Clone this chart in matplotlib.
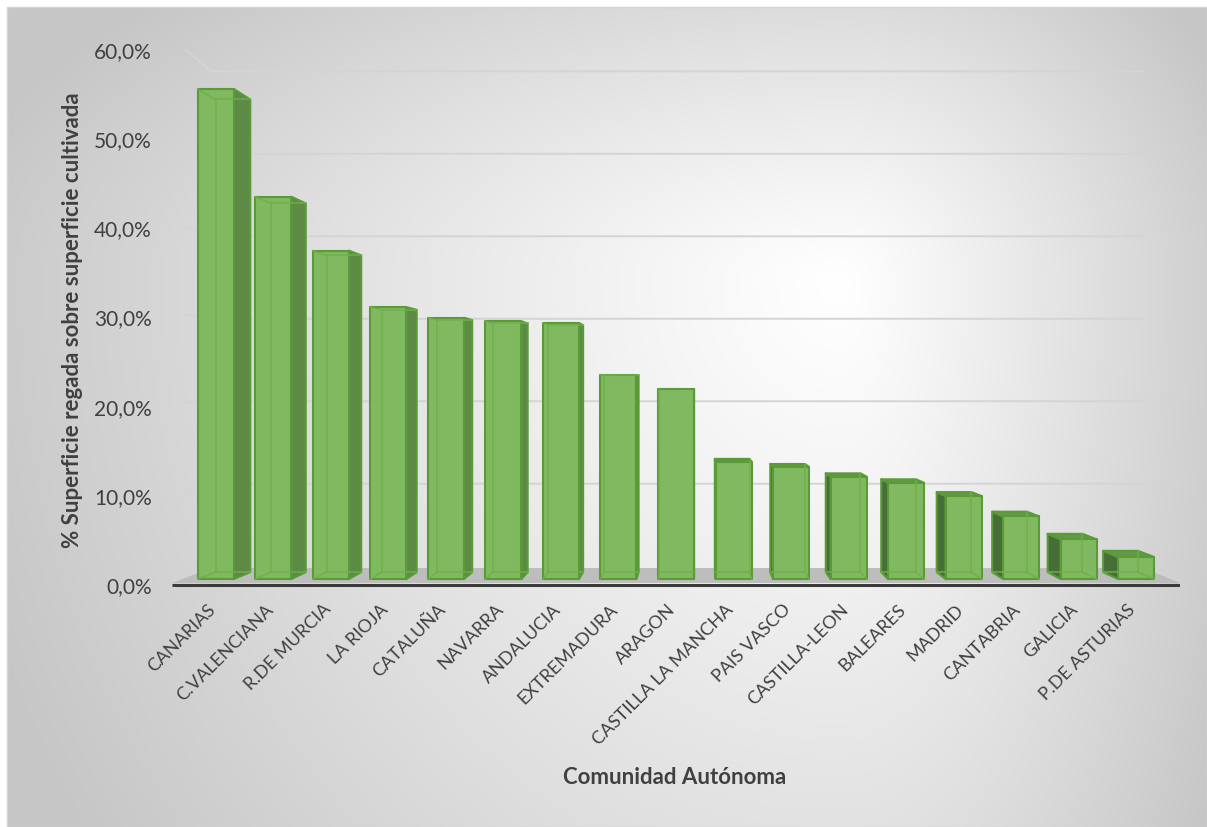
import numpy as np
import matplotlib
matplotlib.use('Agg')
import matplotlib.pyplot as plt
from matplotlib.patches import Polygon, Rectangle
from matplotlib.transforms import offset_copy

comunidades = ['CANARIAS', 'C.VALENCIANA', 'R.DE MURCIA', 'LA RIOJA', 'CATALUÑA',
               'NAVARRA', 'ANDALUCIA', 'EXTREMADURA', 'ARAGON', 'CASTILLA LA MANCHA',
               'PAIS VASCO', 'CASTILLA-LEON', 'BALEARES', 'MADRID', 'CANTABRIA',
               'GALICIA', 'P.DE ASTURIAS']
pct_regada = [55.5, 43.3, 37.2, 30.8, 29.6, 29.2, 29.0, 23.1, 21.5, 13.3,
              12.7, 11.6, 10.9, 9.4, 7.1, 4.5, 2.5]
yticks = [0, 10, 20, 30, 40, 50, 60]
ytick_labels = ['0,0%', '10,0%', '20,0%', '30,0%', '40,0%', '50,0%', '60,0%']

plt.rcParams['font.family'] = ['Lato', 'DejaVu Sans']
TXT = '#404040'

W, H = 1207, 828
fig = plt.figure(figsize=(W / 100, H / 100), dpi=100)

# chart area background: off-centre radial gradient
bg = fig.add_axes([0, 0, 1, 1], zorder=-10)
yy, xx = np.mgrid[0:H, 0:W].astype(float)
dx = xx - 840
dy = yy - 280
rx = np.where(dx < 0, 900, 430)
ry = np.where(dy < 0, 420, 1000)
t = np.clip(np.sqrt((dx / rx) ** 2 + (dy / ry) ** 2), 0, 1)
grey = 1 - (1 - 0.78) * t ** 1.1
grey[(xx < 7) | (yy < 8)] = 1.0
bg.imshow(np.dstack([grey] * 3), extent=(0, W, H, 0), interpolation='bilinear')
bg.add_patch(Rectangle((7, 8), W - 7, H - 8, fill=False, ec='#d4d4d4', lw=1))
bg.set_xlim(0, W)
bg.set_ylim(H, 0)
bg.set_axis_off()

# plot area in data units (x = category index, y = percent)
ax = fig.add_axes([0.1425, 0.28744, 0.83513, 0.66425])
ax.set_xlim(-0.673, 16.68)
ax.set_ylim(-0.897, 60.78)
ax.set_axis_off()
ax.patch.set_alpha(0)

# perspective: vanishing point and depth scales
VX, VY = 8.35, 22.1
S_WALL = 0.925
S_FRONT, S_BACK = 0.99, 0.955
HALF_W = 0.313
XL, XR = -0.673, 16.68
FLOOR_Y = -0.22


def proj(x, y, s):
    return VX + (x - VX) * s, VY + (y - VY) * s


# gridlines on back wall and left side wall
for v in yticks[1:]:
    p0 = proj(XL + 0.14, v, 0.99)
    p1 = proj(XL, v, S_WALL)
    p2 = proj(XR, v, S_WALL)
    ax.plot([p0[0], p1[0], p2[0]], [p0[1], p1[1], p2[1]], color='#d4d4d4', lw=1.4,
            zorder=1, solid_capstyle='butt')

# floor
floor = [proj(XL, FLOOR_Y, 1.0), proj(XR, FLOOR_Y, 1.0),
         proj(XR, FLOOR_Y, S_WALL), proj(XL, FLOOR_Y, S_WALL)]
ax.add_patch(Polygon(floor, closed=True, fc='#bdbdbd', ec='none', zorder=2))
f0, f1 = proj(XL, FLOOR_Y - 0.25, 1.0), proj(XR, FLOOR_Y - 0.25, 1.0)
ax.plot([f0[0], f1[0]], [f0[1], f1[1]], color='#3a3a3a', lw=2.2, zorder=2,
        solid_capstyle='butt')

faces = {
    'front': [(0, 0, 0), (1, 0, 0), (1, 1, 0), (0, 1, 0)],
    'left': [(0, 0, 0), (0, 0, 1), (0, 1, 1), (0, 1, 0)],
    'right': [(1, 0, 0), (1, 0, 1), (1, 1, 1), (1, 1, 0)],
    'top': [(0, 1, 0), (1, 1, 0), (1, 1, 1), (0, 1, 1)],
}
face_colors = {'front': '#80b95f', 'right': '#5d8b46', 'left': '#486e37', 'top': '#62984a'}
edges = []
for a in (0, 1):
    for b in (0, 1):
        edges.append(((0, a, b), (1, a, b)))
        edges.append(((a, 0, b), (a, 1, b)))
        edges.append(((a, b, 0), (a, b, 1)))

for i, v in enumerate(pct_regada):
    xs = (i - HALF_W, i + HALF_W)
    ys = (0.0, v)
    ss = (S_FRONT, S_BACK)
    vert = {(a, b, c): proj(xs[a], ys[b], ss[c])
            for a in (0, 1) for b in (0, 1) for c in (0, 1)}
    shown = []
    if VX > xs[1]:
        shown.append('right')
    if VX < xs[0]:
        shown.append('left')
    if VY > v:
        shown.append('top')
    shown.append('front')
    for name in shown:
        ax.add_patch(Polygon([vert[k] for k in faces[name]], closed=True,
                             fc=face_colors[name], ec='#5a9a37', lw=1.5,
                             joinstyle='round', zorder=4))
    # edges hidden behind the translucent faces
    seen = set()
    for name in shown:
        q = faces[name]
        for k in range(4):
            seen.add(frozenset((q[k], q[(k + 1) % 4])))
    for e in edges:
        if frozenset(e) in seen:
            continue
        (x0, y0), (x1, y1) = vert[e[0]], vert[e[1]]
        ax.plot([x0, x1], [y0, y1], color='#6eb04a', lw=1.2, alpha=0.85, zorder=5)

# value axis labels
ytr = offset_copy(ax.transData, fig=fig, x=-20, y=-5, units='dots')
for v, lab in zip(yticks, ytick_labels):
    ax.text(XL, v, lab, transform=ytr, ha='right', va='center', fontsize=15,
            color=TXT, clip_on=False)

# category labels
xtr = offset_copy(ax.transData, fig=fig, x=-3, y=-27, units='dots')
for i, lab in enumerate(comunidades):
    px, py = proj(i, 0.0, S_FRONT)
    ax.text(px, py, lab, transform=xtr, ha='right', va='center', rotation=45,
            rotation_mode='anchor', fontsize=13, color=TXT, clip_on=False)

fig.text(73 / W, 1 - 320 / H, '% Superficie regada sobre superficie cultivada',
         rotation=90, ha='center', va='center', fontsize=16, fontweight='bold', color=TXT)
fig.text(675 / W, 1 - 778 / H, 'Comunidad Autónoma', ha='center', va='center',
         fontsize=16, fontweight='bold', color=TXT)

fig.savefig('out.png', dpi=100)
